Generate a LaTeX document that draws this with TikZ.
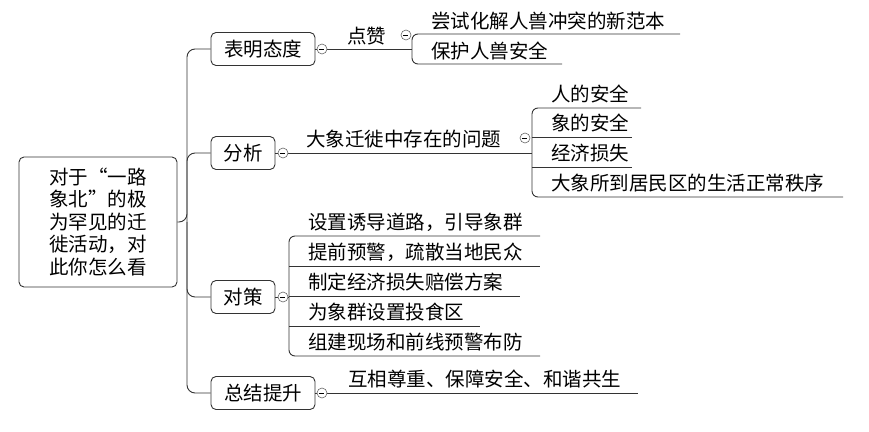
\documentclass[tikz,border=0pt]{standalone}
\usepackage{fontspec}
\setmainfont{Noto Sans CJK SC}
\begin{document}
\begin{tikzpicture}[x=1pt,y=-1pt,
  ln/.style={draw=black!80,line width=0.9pt},
  box/.style={draw=black!80,line width=0.9pt,rounded corners=5pt,inner sep=0,align=center,font=\fontsize{19.5}{22.5}\selectfont},
  tx/.style={anchor=base west,inner sep=0,font=\fontsize{19.5}{22}\selectfont},
  col/.style={draw=black!60,fill=white,circle,inner sep=0,minimum size=10pt,line width=0.6pt}]
\useasboundingbox (0,0) rectangle (869,431);
\node[box,minimum width=158pt,minimum height=130pt] (root) at (98,222) {对于“一路\\象北”的极\\为罕见的迁\\徙活动，对\\此你怎么看};
\node[box,minimum width=104pt,minimum height=33pt] (b1) at (263,49) {表明态度};
\node[box,minimum width=64pt,minimum height=33pt] (b2) at (243,153) {分析};
\node[box,minimum width=64pt,minimum height=33pt] (b3) at (243,297) {对策};
\node[box,minimum width=104pt,minimum height=33pt] (b4) at (263,393) {总结提升};
\coordinate (t) at (187,222);
\draw[ln,rounded corners=8pt] (root.east) -- (t) |- (b1.west);
\draw[ln,rounded corners=8pt] (t) |- (b4.west);
\draw[ln,rounded corners=8pt] (t) |- (b2.west);
\draw[ln,rounded corners=8pt] (t) |- (b3.west);
% branch 1
\coordinate (j1) at (412,49);
\draw[ln] (b1.east) -- (j1);
\node[tx] (dz) at (347,43) {点赞};
\coordinate (e11) at (680,34); \coordinate (e12) at (562,64);
\draw[ln,rounded corners=6pt] (e11) -| (j1) |- (e12);
\node[tx] (c11) at (431,28) {尝试化解人兽冲突的新范本};
\node[tx] (c12) at (431,58) {保护人兽安全};
\node[col] (k1) at (322,49) {}; \draw (k1.west)++(2.5pt,0) -- ++(5pt,0);
\node[col] (k1b) at (406,35) {}; \draw (k1b.west)++(2.5pt,0) -- ++(5pt,0);
% branch 2
\coordinate (j2) at (532,153);
\draw[ln] (b2.east) -- (j2);
\node[tx] (wt) at (306,146) {大象迁徙中存在的问题};
\coordinate (e21) at (641,108); \coordinate (e22) at (632,137);
\coordinate (e23) at (632,167); \coordinate (e24) at (843,197);
\draw[ln,rounded corners=6pt] (e21) -| (j2) |- (e24);
\draw[ln] (j2 |- e22) -- (e22);
\draw[ln] (j2 |- e23) -- (e23);
\node[tx] (c21) at (551,101) {人的安全};
\node[tx] (c22) at (551,130) {象的安全};
\node[tx] (c23) at (551,160) {经济损失};
\node[tx] (c24) at (551,190) {大象所到居民区的生活正常秩序};
\node[col] (k2) at (283,153) {}; \draw (k2.west)++(2.5pt,0) -- ++(5pt,0);
\node[col] (k2b) at (525,138) {}; \draw (k2b.west)++(2.5pt,0) -- ++(5pt,0);
% branch 3
\coordinate (j3) at (289,297);
\coordinate (e31) at (540,236); \coordinate (e32) at (540,266);
\coordinate (e33) at (520,296); \coordinate (e34) at (480,326); \coordinate (e35) at (540,356);
\draw[ln,rounded corners=6pt] (e31) -| (j3) |- (e35);
\draw[ln] (b3.east) -- (j3);
\draw[ln] (j3 |- e32) -- (e32);
\draw[ln] (j3 |- e33) -- (e33);
\draw[ln] (j3 |- e34) -- (e34);
\node[tx] (c31) at (308,229) {设置诱导道路，引导象群};
\node[tx] (c32) at (308,259) {提前预警，疏散当地民众};
\node[tx] (c33) at (308,289) {制定经济损失赔偿方案};
\node[tx] (c34) at (308,319) {为象群设置投食区};
\node[tx] (c35) at (308,349) {组建现场和前线预警布防};
\node[col] (k3) at (283,297) {}; \draw (k3.west)++(2.5pt,0) -- ++(5pt,0);
% branch 4
\coordinate (e4) at (638,393);
\draw[ln] (b4.east) -- (e4);
\node[tx] (c41) at (348,386) {互相尊重、保障安全、和谐共生};
\node[col] (k4) at (322,393) {}; \draw (k4.west)++(2.5pt,0) -- ++(5pt,0);
\end{tikzpicture}
\end{document}
